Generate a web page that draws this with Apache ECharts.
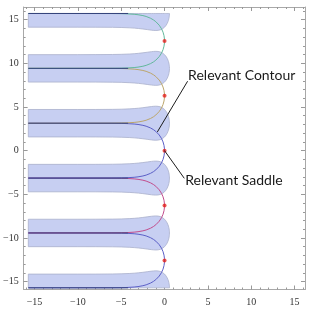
<!DOCTYPE html>
<html><head><meta charset="utf-8">
<script src="https://cdn.jsdelivr.net/npm/echarts@6/dist/echarts.min.js"></script>
<style>html,body{margin:0;padding:0;background:#fff}#c{width:313px;height:310px}</style>
</head><body><div id="c"></div>
<script>
// ---- data ----
const majorTicks = [-15, -10, -5, 0, 5, 10, 15];
const minorTicks = [-16,-15,-14,-13,-12,-11,-10,-9,-8,-7,-6,-5,-4,-3,-2,-1,0,1,2,3,4,5,6,7,8,9,10,11,12,13,14,15,16];
// saddle points (x = 0)
const saddleY = [-12.566, -6.283, 0, 6.283, 12.566];
const contourColors = ['#5b5fc7', '#c24c8c', '#5b5fc7', '#bca66c', '#62b89c'];
// contour shape relative to its saddle: offset in y (t) and x position
const contourT = [0, 0.2, 0.4, 0.6, 0.8, 1.0, 1.2, 1.4, 1.6, 1.8, 2.0, 2.2, 2.4, 2.6, 2.8, 2.9, 3.0, 3.05, 3.1, 3.12, 3.13, 3.135, 3.1416];
const contourX = [0, -0.0067, -0.0268, -0.0607, -0.109, -0.1726, -0.2527, -0.3511, -0.4704, -0.6142, -0.7882, -1.001, -1.2679, -1.6181, -2.1233, -2.4949, -3.0567, -3.5069, -4.3115, -4.9733, -5.5984, -6.1645, -15.71];
// shaded lobes: x positions and half-width about each lobe centre
const bandX = [-15.71, -10, -8, -6, -5, -4, -3.5, -3, -2.5, -2, -1.5, -1.25, -1, -0.75, -0.5, -0.25, 0, 0.1, 0.2, 0.3, 0.4, 0.45, 0.5, 0.53, 0.55, 0.56, 0.567];
const bandHalf = [1.5708, 1.5713, 1.5735, 1.5857, 1.6045, 1.6441, 1.6767, 1.7207, 1.7775, 1.845, 1.9122, 1.937, 1.9475, 1.9329, 1.879, 1.7668, 1.5708, 1.4601, 1.324, 1.1538, 0.9313, 0.7873, 0.6017, 0.45, 0.3068, 0.198, 0];
const bandCenters = [-15.708, -9.425, -3.1416, 3.1416, 9.425, 15.708];
const bandSides = ['upper', 'both', 'both', 'both', 'both', 'lower'];
const horizX = [-15.71, -4.2];
const noteTexts = ['Relevant Contour', 'Relevant Saddle'];
const noteX = [2.72, 2.38];
const noteY = [8.62, -3.47];
const pointerFrom = [[2.66, 7.95], [0, 0]];
const pointerTo = [[-0.83, 2.14], [2.28, -3.17]];

const X_MIN = -16.25, X_MAX = 16.2, Y_MIN = -15.9, Y_MAX = 16.45;

// ---- build series ----
const series = [];

// lobes as polygons
series.push({
  type: 'custom', xAxisIndex: 0, yAxisIndex: 0, z: 1,
  data: bandCenters.map((c, i) => [c, i]),
  renderItem: function (params, api) {
    const c = bandCenters[params.dataIndex];
    const side = bandSides[params.dataIndex];
    const up = [], lo = [];
    for (let i = 0; i < bandX.length; i++) {
      up.push(api.coord([bandX[i], side === 'lower' ? c : c + bandHalf[i]]));
      lo.push(api.coord([bandX[i], side === 'upper' ? c : c - bandHalf[i]]));
    }
    const pts = up.concat(lo.reverse());
    return {
      type: 'polygon',
      shape: { points: pts },
      style: { fill: '#c7cff2', stroke: '#aab0cc', lineWidth: 0.8 }
    };
  }
});

// horizontal asymptote lines (where two contours merge)
bandCenters.forEach(c => {
  series.push({
    type: 'line', xAxisIndex: 0, yAxisIndex: 0, z: 3,
    showSymbol: false, silent: true,
    lineStyle: { color: '#35427c', width: 1 },
    data: horizX.map(x => [x, c])
  });
});

// steepest-descent contours through each saddle
saddleY.forEach((y0, k) => {
  const pts = [];
  for (let i = contourT.length - 1; i >= 0; i--) pts.push([contourX[i], y0 - contourT[i]]);
  for (let i = 1; i < contourT.length; i++) pts.push([contourX[i], y0 + contourT[i]]);
  series.push({
    type: 'line', xAxisIndex: 0, yAxisIndex: 0, z: 2,
    showSymbol: false, silent: true,
    lineStyle: { color: contourColors[k], width: 1 },
    data: pts
  });
});

// saddle points
series.push({
  type: 'scatter', xAxisIndex: 0, yAxisIndex: 0, z: 5,
  symbolSize: 4, itemStyle: { color: '#e4231e' },
  data: saddleY.map(y => [0, y])
});

// pointer lines
pointerFrom.forEach((p, i) => {
  series.push({
    type: 'line', xAxisIndex: 0, yAxisIndex: 0, z: 6,
    showSymbol: false, silent: true,
    lineStyle: { color: '#1c1c1c', width: 1 },
    data: [p, pointerTo[i]]
  });
});

// annotation texts
series.push({
  type: 'custom', xAxisIndex: 0, yAxisIndex: 0, z: 7,
  data: noteTexts.map((t, i) => [noteX[i], noteY[i]]),
  renderItem: function (params, api) {
    const p = api.coord([api.value(0), api.value(1)]);
    return {
      type: 'text', x: p[0], y: p[1],
      style: { text: noteTexts[params.dataIndex], fill: '#1a1a1a', font: '14px Lato', textAlign: 'left', textVerticalAlign: 'middle' }
    };
  }
});

const fmt = v => (v < 0 ? '\u2212' + Math.abs(v) : String(v));
const frameColor = '#a8a8a8';
function mkAxis(pos, major, showLabel) {
  return {
    type: 'value', position: pos,
    min: pos === 'bottom' || pos === 'top' ? X_MIN : Y_MIN,
    max: pos === 'bottom' || pos === 'top' ? X_MAX : Y_MAX,
    axisLine: { show: major, onZero: false, lineStyle: { color: frameColor, width: 1 } },
    axisTick: { show: true, inside: true, length: major ? 4 : 2, customValues: major ? majorTicks : minorTicks, lineStyle: { color: '#999' } },
    axisLabel: { show: showLabel, customValues: majorTicks, formatter: fmt, fontFamily: 'Liberation Serif', fontSize: 10, color: '#333', margin: pos === 'bottom' ? 8 : 5 },
    splitLine: { show: false }
  };
}

const chart = echarts.init(document.getElementById('c'), null, { renderer: 'canvas' });
chart.setOption({
  animation: false,
  backgroundColor: '#fff',
  grid: { left: 21, right: 8, top: 7, bottom: 20.5, containLabel: false },
  xAxis: [mkAxis('bottom', true, true), mkAxis('bottom', false, false), mkAxis('top', true, false), mkAxis('top', false, false)],
  yAxis: [mkAxis('left', true, true), mkAxis('left', false, false), mkAxis('right', true, false), mkAxis('right', false, false)],
  series: series
});
</script></body></html>
